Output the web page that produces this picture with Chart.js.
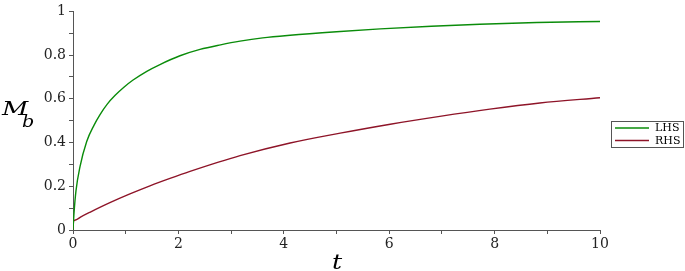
<!DOCTYPE html>
<html>
<head>
<meta charset="utf-8">
<script src="https://cdn.jsdelivr.net/npm/chart.js@4/dist/chart.umd.min.js"></script>
<style>
html,body{margin:0;padding:0;background:#fff;}
#wrap{width:685px;height:271px;position:relative;}
</style>
</head>
<body>
<div id="wrap"><canvas id="c" width="685" height="271"></canvas></div>
<script>
// Data
const lhsT = [0, 0.02, 0.057, 0.133, 0.26, 0.4, 0.51, 0.65, 0.8, 0.96, 1.14, 1.4, 1.65, 2.03, 2.41, 2.8, 3.17, 3.6, 4.12, 5.0, 5.83, 6.8, 7.72, 8.8, 10];
const lhsM = [0, 0.08, 0.18, 0.29, 0.405, 0.48, 0.527, 0.576, 0.616, 0.652, 0.686, 0.726, 0.757, 0.797, 0.826, 0.847, 0.864, 0.879, 0.891, 0.907, 0.92, 0.932, 0.941, 0.949, 0.954];
const rhsT = [0, 0.01, 0.05, 0.15, 0.32, 0.7, 1.08, 1.46, 1.84, 2.22, 3.17, 4.12, 5.07, 6.02, 6.96, 7.91, 8.86, 10];
const rhsM = [0, 0.04, 0.046, 0.06, 0.081, 0.125, 0.165, 0.202, 0.236, 0.268, 0.34, 0.398, 0.443, 0.484, 0.52, 0.553, 0.581, 0.605];
const seriesNames = ['LHS', 'RHS'];
const xTickLabels = ['0', '2', '4', '6', '8', '10'];
const yTickLabels = ['0', '0.2', '0.4', '0.6', '0.8', '1'];
const xTitle = 't';
const yTitleMain = 'M';
const yTitleSub = 'b';

const colors = ['#0a8c0a', '#8e1428'];
const pts = (ts, ms) => ts.map((t, i) => ({x: t, y: ms[i]}));

const fmt = v => (Math.round(v * 10) / 10).toString();

const decor = {
  id: 'decor',
  afterDraw(chart) {
    const ctx = chart.ctx;
    ctx.save();
    ctx.fillStyle = '#000';
    ctx.textBaseline = 'alphabetic';
    ctx.textAlign = 'left';
    ctx.save();
    ctx.translate(2, 115);
    ctx.scale(1.35, 1);
    ctx.font = 'italic 19px "DejaVu Serif"';
    ctx.fillText(yTitleMain, 0, 0);
    ctx.restore();
    ctx.save();
    ctx.translate(22, 127);
    ctx.scale(1.2, 1);
    ctx.font = 'italic 16px "DejaVu Serif"';
    ctx.fillText(yTitleSub, 0, 0);
    ctx.restore();
    ctx.save();
    ctx.translate(332, 269);
    ctx.scale(1.2, 1);
    ctx.font = 'italic 21px "DejaVu Serif"';
    ctx.fillText(xTitle, 0, 0);
    ctx.restore();
    // legend
    const lx = 611.5, ly = 121.5, lw = 72, lh = 26;
    ctx.strokeStyle = '#555';
    ctx.lineWidth = 1;
    ctx.strokeRect(lx, ly, lw, lh);
    ctx.font = '11px "DejaVu Serif"';
    ctx.textBaseline = 'middle';
    seriesNames.forEach((n, i) => {
      const y = 128 + i * 12.5;
      ctx.strokeStyle = colors[i];
      ctx.lineWidth = 1.3;
      ctx.beginPath();
      ctx.moveTo(615, y);
      ctx.lineTo(649, y);
      ctx.stroke();
      ctx.fillStyle = '#000';
      ctx.fillText(n, 655, y + 0.5);
    });
    ctx.restore();
  }
};

new Chart(document.getElementById('c'), {
  type: 'line',
  data: {
    datasets: [
      {label: seriesNames[0], data: pts(lhsT, lhsM), borderColor: colors[0], borderWidth: 1.4, pointRadius: 0, cubicInterpolationMode: 'monotone', fill: false},
      {label: seriesNames[1], data: pts(rhsT, rhsM), borderColor: colors[1], borderWidth: 1.4, pointRadius: 0, cubicInterpolationMode: 'monotone', fill: false}
    ]
  },
  options: {
    responsive: false,
    animation: false,
    events: [],
    layout: {padding: {top: 4, right: 85, left: 0, bottom: 0}},
    plugins: {legend: {display: false}, tooltip: {enabled: false}, title: {display: false}},
    scales: {
      x: {
        type: 'linear', min: 0, max: 10,
        afterFit(s) { s.height = 41; },
        border: {color: '#555', width: 1},
        grid: {drawOnChartArea: false, drawTicks: true, tickLength: 4, color: '#555'},
        ticks: {
          stepSize: 1, autoSkip: false, maxRotation: 0, padding: 2,
          color: '#222', font: {family: 'DejaVu Serif', size: 14},
          callback: v => xTickLabels.includes(String(v)) ? String(v) : ''
        }
      },
      y: {
        type: 'linear', min: 0, max: 1,
        afterFit(s) { s.width = 73; },
        border: {color: '#555', width: 1},
        grid: {drawOnChartArea: false, drawTicks: true, tickLength: 4, color: '#555'},
        ticks: {
          stepSize: 0.1, autoSkip: false, padding: 3,
          color: '#222', font: {family: 'DejaVu Serif', size: 14},
          callback: v => { const s = fmt(v); return yTickLabels.includes(s) ? s : ''; }
        }
      }
    }
  },
  plugins: [decor]
});
</script>
</body>
</html>
